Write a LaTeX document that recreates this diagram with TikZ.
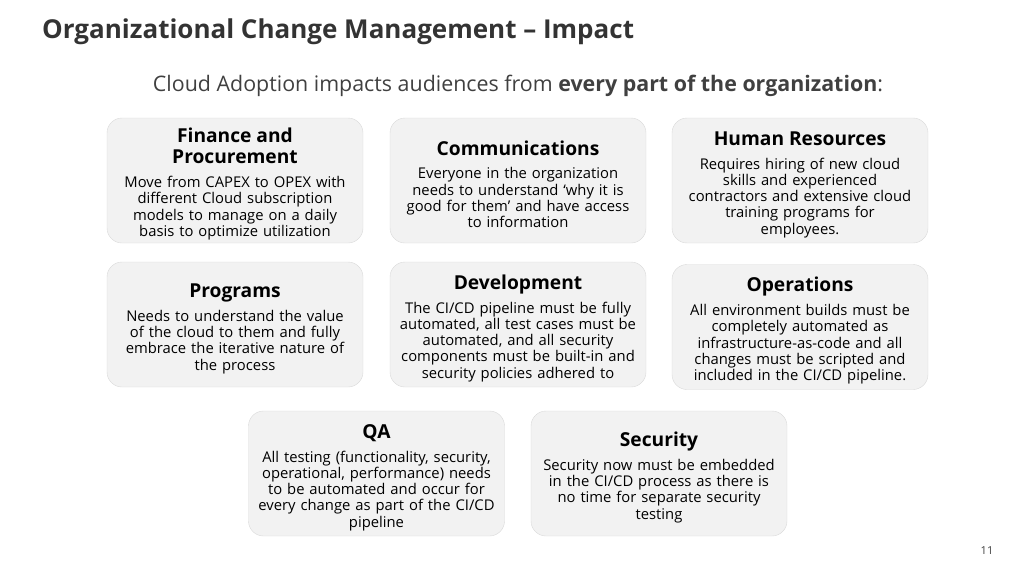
\documentclass[tikz,border=0pt]{standalone}
\usepackage{fontspec}
\setmainfont{Open Sans}
\usetikzlibrary{positioning}

\definecolor{titlegray}{HTML}{333333}
\definecolor{subgray}{HTML}{404040}
\definecolor{cardfill}{HTML}{F2F2F2}
\definecolor{cardline}{HTML}{D9D9D9}

\newcommand{\cardtitle}[1]{{\fontsize{19.2}{21}\selectfont\bfseries\rule{0pt}{22pt}#1\par}\vspace{7.5pt}}

\tikzset{
  card/.style={draw=cardline, fill=cardfill, rounded corners=15pt,
    minimum width=256pt, minimum height=125pt, text width=252pt,
    align=center, inner sep=0pt, font=\fontsize{14.8}{16.3}\selectfont},
}

\begin{document}
\begin{tikzpicture}[x=1pt, y=-1pt]

 \useasboundingbox (0,0) rectangle (1024,575);

 %%%  nodes

 % header
 \node [anchor=base west, inner sep=0pt, text=titlegray, font=\fontsize{26}{30}\selectfont\bfseries] (title) at (42,38.5) {Organizational Change Management -- Impact};
 \node [anchor=base, text=subgray, font=\fontsize{21.4}{25}\selectfont] (sub) at (518,91.5) {Cloud Adoption impacts audiences from \textbf{every part of the organization}:};

 % first row
 \node [card] (fin) at (235,180.5) {\cardtitle{Finance and\\Procurement}
   Move from CAPEX to OPEX with\\ different Cloud subscription\\ models to manage on a daily\\ basis to optimize utilization};
 \node [card] (comm) at (518,180.5) {\cardtitle{Communications}
   Everyone in the organization\\ needs to understand ‘why it is\\ good for them’ and have access\\ to information};
 \node [card] (hr) at (800,180.5) {\cardtitle{Human Resources}
   Requires hiring of new cloud\\ skills and experienced\\ contractors and extensive cloud\\ training programs for\\ employees.};

 % second row
 \node [card] (prog) at (235,324.5) {\cardtitle{Programs}
   Needs to understand the value\\ of the cloud to them and fully\\ embrace the iterative nature of\\ the process};
 \node [card] (dev) at (518,324.5) {\cardtitle{Development}
   The CI/CD pipeline must be fully\\ automated, all test cases must be\\ automated, and all security\\ components must be built-in and\\ security policies adhered to};
 \node [card] (ops) at (800,327) {\cardtitle{Operations}
   All environment builds must be\\ completely automated as\\ infrastructure-as-code and all\\ changes must be scripted and\\ included in the CI/CD pipeline.};

 % third row
 \node [card] (qa) at (376.5,473.5) {\cardtitle{QA}
   All testing (functionality, security,\\ operational, performance) needs\\ to be automated and occur for\\ every change as part of the CI/CD\\ pipeline};
 \node [card] (sec) at (659,473.5) {\cardtitle{Security}
   Security now must be embedded\\ in the CI/CD process as there is\\ no time for separate security\\ testing};

 % page number
 \node [text=subgray, font=\fontsize{11}{13}\selectfont] (page) at (987,551) {11};

\end{tikzpicture}
\end{document}
